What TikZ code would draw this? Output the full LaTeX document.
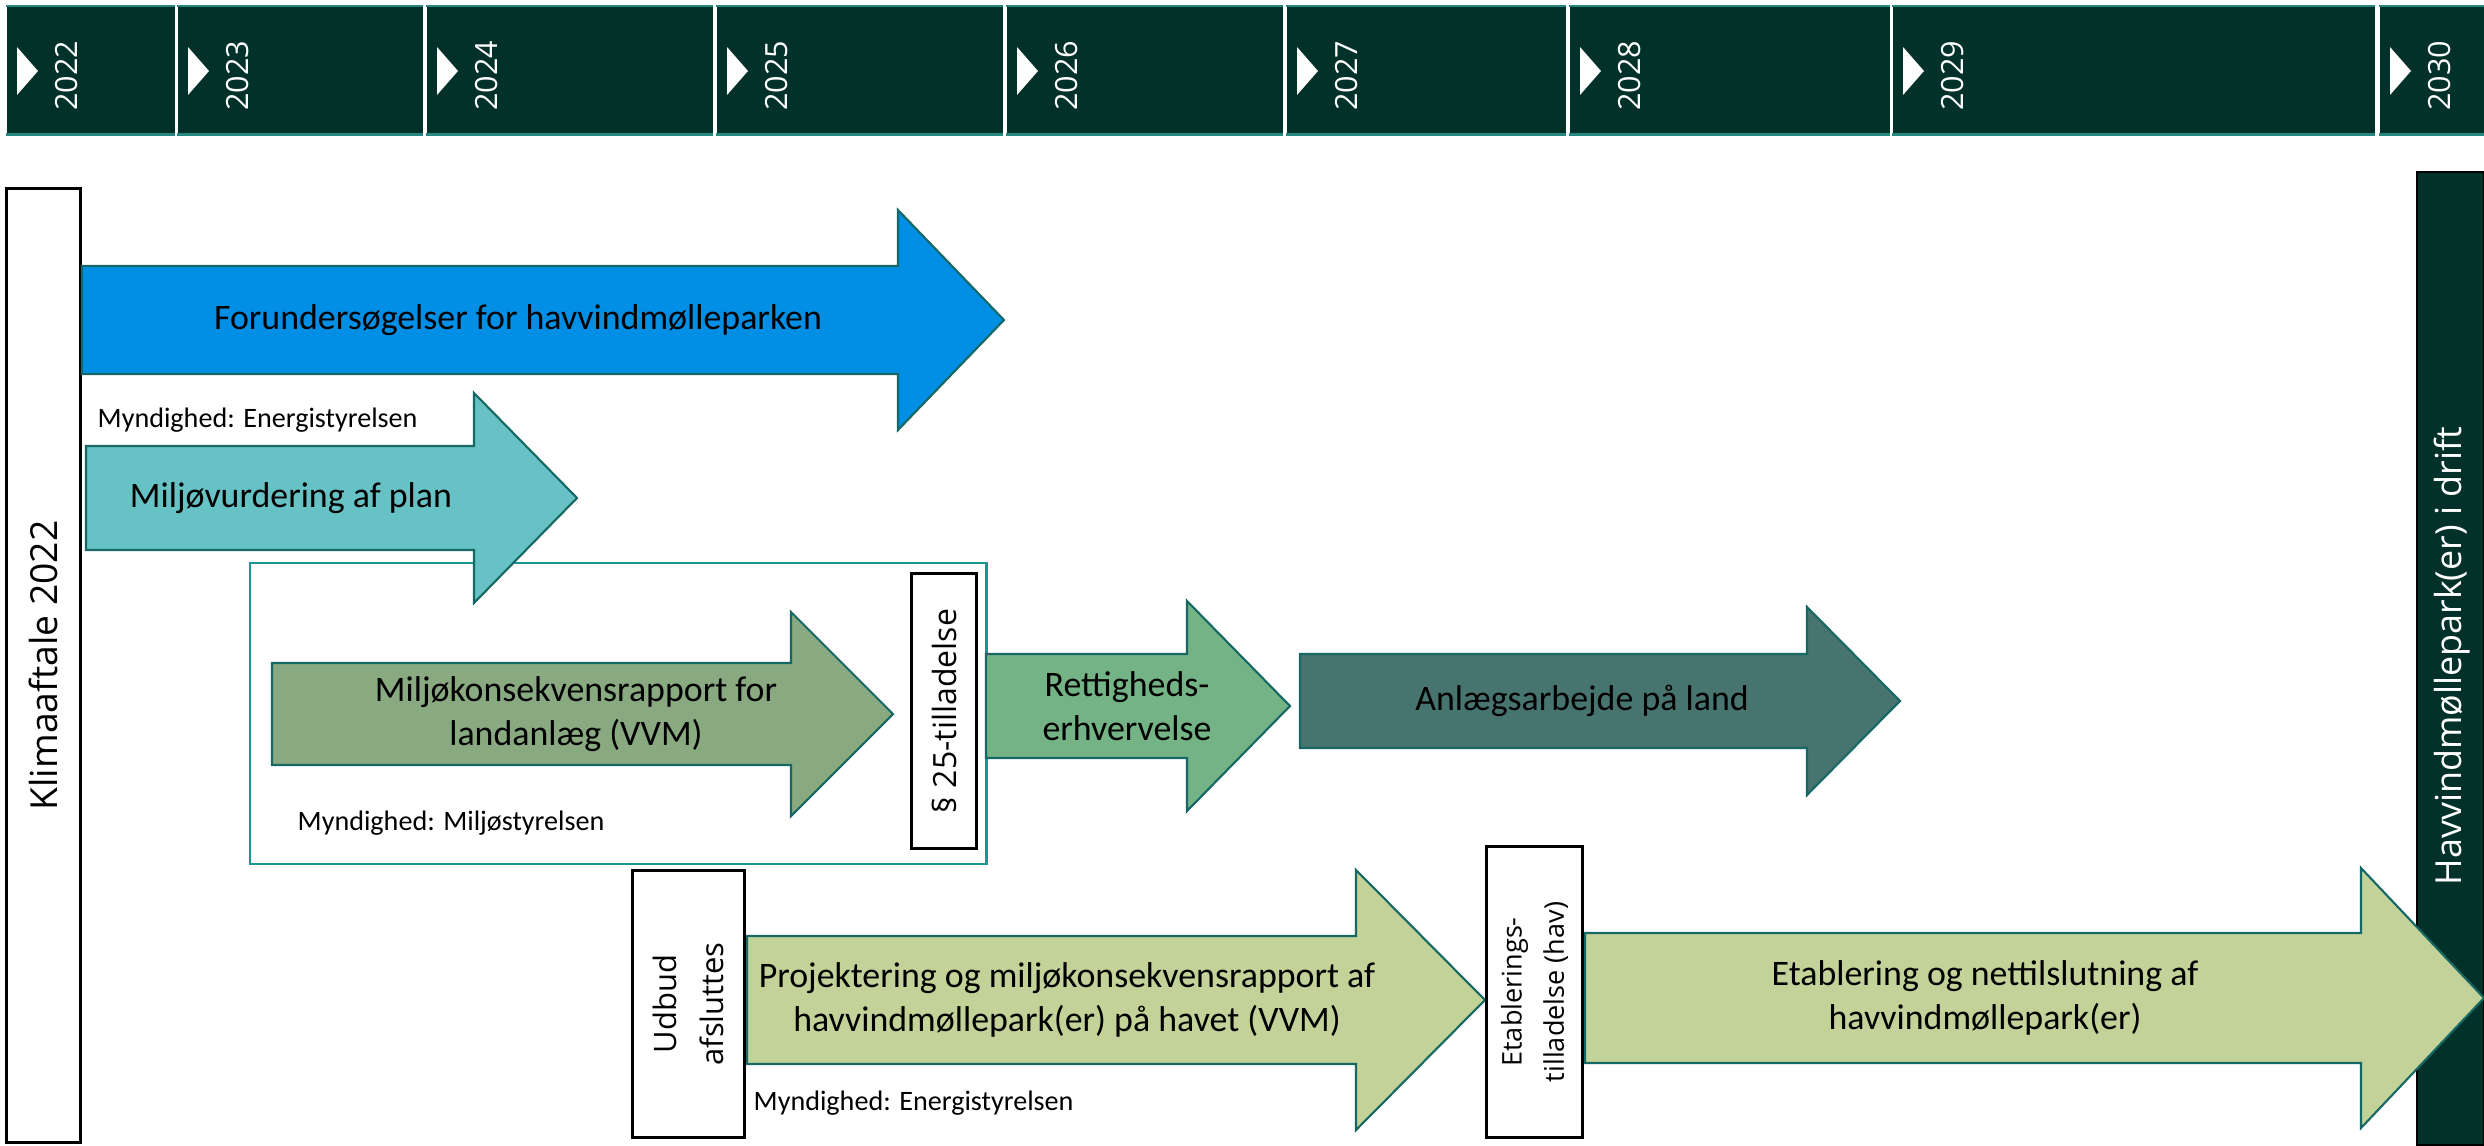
\documentclass[tikz,border=0pt]{standalone}
\usepackage{fontspec}
\setmainfont{Carlito}
\newfontfamily\segoe{Open Sans}
\usetikzlibrary{positioning}

\definecolor{deepgreen}{RGB}{2,49,41}
\definecolor{edgeteal}{RGB}{38,134,128}
\definecolor{frameteal}{RGB}{24,150,145}
\definecolor{outline}{RGB}{22,104,100}
\definecolor{skyblue}{RGB}{0,143,228}
\definecolor{aqua}{RGB}{102,194,196}
\definecolor{sage}{RGB}{137,169,129}
\definecolor{leaf}{RGB}{116,179,133}
\definecolor{pine}{RGB}{71,116,111}
\definecolor{olive}{RGB}{194,210,152}

\begin{document}
\begin{tikzpicture}[x=0.01cm,y=-0.01cm,
	yearcell/.style={fill=deepgreen,anchor=north west,minimum height=1.27cm,inner sep=0pt},
	yearlabel/.style={rotate=90,text=white,inner sep=0pt,font=\segoe\fontsize{8.7}{10}\selectfont},
	flow/.style={draw=outline,line width=0.6pt,line join=miter},
	flowtext/.style={align=center,inner sep=0pt,font=\fontsize{10.2}{12.7}\selectfont},
	authority/.style={anchor=base west,inner sep=0pt,font=\fontsize{8}{10}\selectfont},
	milestone/.style={draw,line width=0.85pt,fill=white,rotate=90,align=center,inner sep=0pt}]

	\useasboundingbox (0,0) rectangle (2484,1145);

	\foreach \yr/\a/\b in {2022/6/174,2023/177/422,2024/426/712,2025/716/1002,2026/1006/1282,
			2027/1286/1565,2028/1569/1889,2029/1892/2374,2030/2379/2484}{
		\node[yearcell,minimum width={(\b-\a)*0.01cm}] (c\yr) at (\a,6) {};
		\draw[edgeteal,line width=0.6pt] (c\yr.north west) -- (c\yr.north east)
			(c\yr.south west) -- (c\yr.south east);
		\fill[white] (\a+11,47) -- (\a+32,71) -- (\a+11,95) -- cycle;
		\node[yearlabel] (y\yr) at (\a+61,76) {\yr};
	}

	\node[draw=frameteal,line width=0.6pt,anchor=north west,minimum width=7.36cm,
		minimum height=3.01cm,inner sep=0pt] (landframe) at (249,562) {};

	\node[milestone,minimum width=9.53cm,minimum height=0.73cm] (klima) at (43.5,665.5) {};
	\node[rotate=90,inner sep=0pt,font=\segoe\fontsize{10.6}{13}\selectfont] (klimalabel)
		at (klima.center) {Klimaaftale 2022};

	\node[fill=deepgreen,draw=black,line width=0.6pt,rotate=90,minimum width=9.73cm,
		minimum height=0.67cm,inner sep=0pt] (drift) at (2450.5,658.5) {};
	\node[rotate=90,text=white,inner sep=0pt,font=\segoe\fontsize{10.2}{13}\selectfont] (driftlabel)
		at (2452,656) {Havvindmøllepark(er) i drift};

	\foreach \n/\col/\xa/\xb/\xc/\yc/\bh/\hh/\tx/\txt in {
			survey/skyblue/82/898/1004/320/54/110/518/{Forundersøgelser for havvindmølleparken},
			plan/aqua/86/474/577/498/52/105/291/{Miljøvurdering af plan},
			land/sage/272/791/893/714/51/102/576/{Miljøkonsekvensrapport for\\landanlæg (VVM)},
			rights/leaf/986/1187/1290/706/52/105/1127/{Rettigheds-\\erhvervelse},
			works/pine/1300/1807/1900/701/47/94/1582/{Anlægsarbejde på land},
			design/olive/747/1356/1485/1000/64/130/1067/{Projektering og miljøkonsekvensrapport af\\havvindmøllepark(er) på havet (VVM)},
			build/olive/1585/2361/2484/998/65/130/1985/{Etablering og nettilslutning af\\havvindmøllepark(er)}}{
		\draw[flow,fill=\col] (\xa,\yc-\bh) -- (\xb,\yc-\bh) -- (\xb,\yc-\hh) -- (\xc,\yc)
			-- (\xb,\yc+\hh) -- (\xb,\yc+\bh) -- (\xa,\yc+\bh) -- cycle;
		\node[flowtext] (\n) at (\tx,\yc) {\txt};
	}

	\node[milestone,minimum width=2.74cm,minimum height=0.64cm,
		font=\segoe\fontsize{9.1}{11}\selectfont] (permit) at (944,711) {§ 25-tilladelse};
	\node[milestone,minimum width=2.66cm,minimum height=1.11cm,
		font=\segoe\fontsize{8.8}{13.4}\selectfont] (tender) at (688.5,1004) {Udbud\\afsluttes};
	\node[milestone,minimum width=2.90cm,minimum height=0.95cm,
		font=\segoe\fontsize{7.7}{12}\selectfont] (license) at (1534.5,992) {Etablerings-\\tilladelse (hav)};

	\node[authority] (ens1) at (97,427) {Myndighed: Energistyrelsen};
	\node[authority] (mst) at (297,830) {Myndighed: Miljøstyrelsen};
	\node[authority] (ens2) at (753,1110) {Myndighed: Energistyrelsen};
\end{tikzpicture}
\end{document}
